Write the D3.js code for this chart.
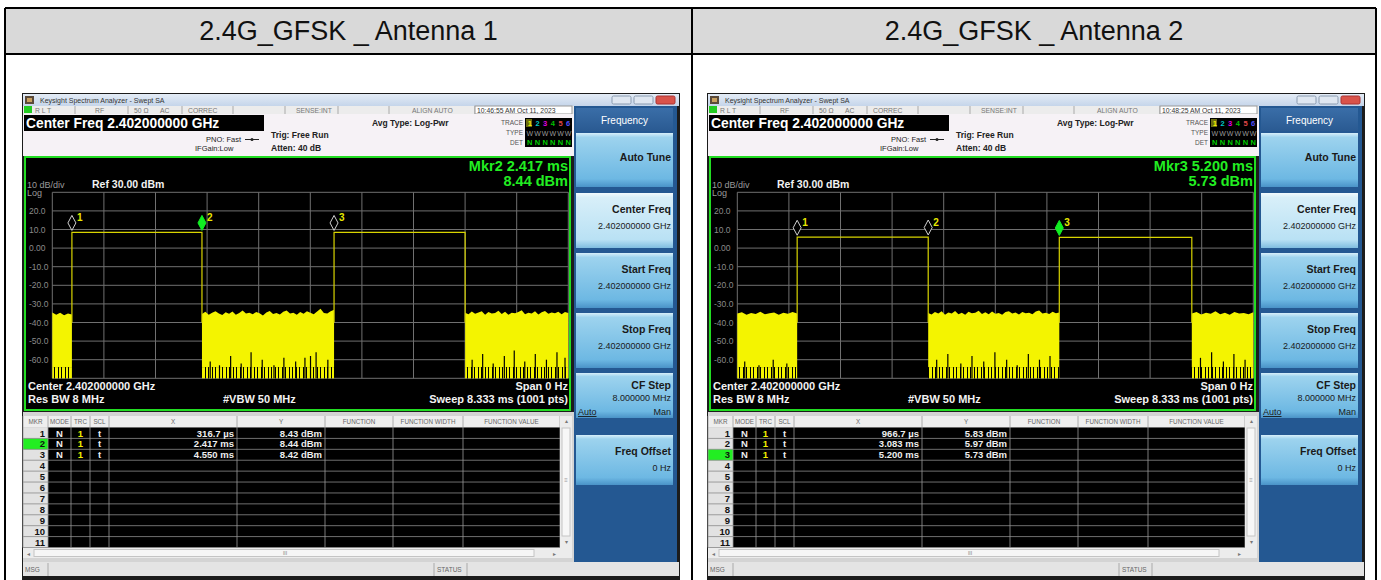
<!DOCTYPE html>
<html>
<head>
<meta charset="utf-8">
<script src="https://d3js.org/d3.v7.min.js"></script>
<style>
body { margin: 0; background: #fff; }
svg { display: block; }
</style>
</head>
<body>
<div id="chart"></div>
<script>
// ---- data ----
var panelTitles = ["2.4G_GFSK _ Antenna 1", "2.4G_GFSK _ Antenna 2"];
var timeStamps = ["10:46:55 AM Oct 11, 2023", "10:48:25 AM Oct 11, 2023"];
var activeMarker = [2, 3];

var markerTimes = [[0.3167, 2.417, 4.550], [0.9667, 3.083, 5.200]];      // ms
var markerLevels = [[8.43, 8.44, 8.42], [5.83, 5.97, 5.73]];             // dBm
var markerXText = [["316.7 \u00b5s", "2.417 ms", "4.550 ms"], ["966.7 \u00b5s", "3.083 ms", "5.200 ms"]];
var markerYText = [["8.43 dBm", "8.44 dBm", "8.42 dBm"], ["5.83 dBm", "5.97 dBm", "5.73 dBm"]];

// [start ms, end ms, level dBm]
var pulses = [
  [[0.3167, 2.417, 8.43], [4.550, 6.667, 8.42]],
  [[0.9667, 3.083, 5.90], [5.200, 7.340, 5.73]]
];

// noise floor segments between bursts: time spans and top envelope (dBm)
var noiseSpan = [
  [[0, 0.3167], [2.417, 4.550], [6.667, 8.333]],
  [[0, 0.9667], [3.083, 5.200], [7.340, 8.333]]
];
var noiseTop = [
  [
    [-34.6, -35.9, -34.8, -36.1, -35.2, -35.7],
    [-35.4, -34.2, -35.9, -34.8, -33.9, -35.1, -36.0, -34.5, -35.3, -34.1, -35.8, -34.9, -33.6, -35.2,
     -34.7, -35.6, -34.3, -35.0, -36.2, -34.6, -33.8, -35.4, -34.9, -35.7, -34.2, -33.5, -35.1, -34.8,
     -35.9, -34.4, -35.3, -33.9, -34.7, -35.5, -34.1, -32.6, -34.9, -35.2, -34.0, -33.1],
    [-34.8, -35.6, -34.1, -35.3, -34.6, -33.9, -35.8, -34.4, -35.1, -34.9, -33.7, -35.4, -34.2, -35.9,
     -34.7, -35.0, -34.3, -33.4, -35.6, -34.8, -35.2, -34.0, -35.7, -34.5, -33.8, -35.3, -34.6, -35.0,
     -34.2, -35.5, -34.4, -34.9]
  ],
  [
    [-35.2, -34.5, -35.8, -34.9, -35.4, -34.2, -35.6, -35.0, -34.6, -35.9, -34.8, -35.3, -34.4, -35.1],
    [-34.9, -35.7, -34.3, -35.2, -34.0, -35.8, -34.6, -35.1, -33.8, -35.5, -34.7, -35.9, -34.2, -35.0,
     -34.8, -33.7, -35.4, -34.5, -35.6, -34.1, -35.3, -34.9, -35.8, -34.4, -33.9, -35.2, -34.6, -35.7,
     -34.3, -35.0, -34.8, -35.5, -34.1, -33.6, -35.1, -34.7, -35.4, -34.2, -35.0, -34.6],
    [-35.1, -34.4, -35.7, -34.8, -35.3, -34.0, -35.5, -34.7, -35.9, -34.3, -35.2, -34.9, -35.6, -34.5]
  ]
];
// black dropouts rising from the bottom of the noise fill: [ms, dBm]
var notches = [
  [[2.55, -61], [2.70, -63], [2.88, -58], [3.05, -62], [3.21, -56], [3.39, -60], [3.58, -63], [3.74, -59],
   [3.93, -61], [4.08, -59], [4.17, -58], [4.26, -56], [4.45, -60],
   [6.78, -60], [6.95, -57], [7.12, -62], [7.30, -58], [7.46, -55], [7.63, -61], [7.80, -57], [7.98, -60],
   [8.15, -56], [8.28, -59]],
  [[0.12, -61], [0.35, -63], [0.58, -60], [0.80, -62],
   [3.22, -60], [3.40, -57], [3.61, -62], [3.79, -58], [3.98, -61], [4.16, -56], [4.35, -60], [4.52, -63],
   [4.70, -57], [4.88, -60], [5.05, -58],
   [7.48, -59], [7.66, -56], [7.85, -61], [8.02, -57], [8.20, -60]]
];

var yTickValues = [20, 10, 0, -10, -20, -30, -40, -50, -60];
var yTickLabels = ["20.0", "10.0", "0.00", "-10.0", "-20.0", "-30.0", "-40.0", "-50.0", "-60.0"];
var sweepMs = 8.333, refLevel = 30, bottomLevel = -70;

var softKeys = [
  {label: "Auto Tune", sub: ""},
  {label: "Center Freq", sub: "2.402000000 GHz"},
  {label: "Start Freq", sub: "2.402000000 GHz"},
  {label: "Stop Freq", sub: "2.402000000 GHz"},
  {label: "CF Step", sub: "8.000000 MHz"},
  {label: "Freq Offset", sub: "0 Hz"}
];
var tableHeaders = ["MKR", "MODE", "TRC", "SCL", "X", "Y", "FUNCTION", "FUNCTION WIDTH", "FUNCTION VALUE"];
var traceDigits = ["1", "2", "3", "4", "5", "6"];
var traceColors = ["#f0f000", "#00c8c8", "#e000e0", "#00c000", "#e04848", "#5050ff"];

// ---- drawing ----
var W = 1381, H = 580;
var font = "'Liberation Sans', Arial, sans-serif";
var yellow = "#f4f400";

var svg = d3.select("#chart").append("svg")
  .attr("width", W).attr("height", H)
  .style("font-family", font);

var defs = svg.append("defs");
function grad(id, stops) {
  var lg = defs.append("linearGradient").attr("id", id)
    .attr("x1", 0).attr("y1", 0).attr("x2", 0).attr("y2", 1);
  stops.forEach(function(s) { lg.append("stop").attr("offset", s[0]).attr("stop-color", s[1]); });
}
grad("titleGrad", [[0, "#e4ecf6"], [1, "#c5d5ea"]]);
grad("keyGrad", [[0, "#d6eef9"], [0.08, "#9dd3ee"], [0.85, "#6db8e3"], [1, "#4a93c8"]]);
grad("keySel", [[0, "#f2fafe"], [0.08, "#d8eff9"], [0.85, "#b9e1f4"], [1, "#7fbde0"]]);
grad("headGrad", [[0, "#3a6ea8"], [1, "#2a5a92"]]);
var band = defs.append("pattern").attr("id", "band")
  .attr("width", 7).attr("height", 10).attr("patternUnits", "userSpaceOnUse");
band.append("rect").attr("width", 7).attr("height", 10).attr("fill", yellow);
band.append("rect").attr("x", 2).attr("width", 1).attr("height", 10).attr("fill", "#000");
band.append("rect").attr("x", 5).attr("width", 1).attr("height", 10).attr("fill", "#000");

// outer document table
svg.append("rect").attr("x", 5).attr("y", 8).attr("width", 1371).attr("height", 46).attr("fill", "#d9d9d9");
var tl = svg.append("g").attr("stroke", "#000").attr("stroke-width", 2);
tl.append("line").attr("x1", 5).attr("x2", 1376).attr("y1", 8).attr("y2", 8);
tl.append("line").attr("x1", 5).attr("x2", 1376).attr("y1", 54).attr("y2", 54);
[5, 692, 1376].forEach(function(x) {
  tl.append("line").attr("x1", x).attr("x2", x).attr("y1", 8).attr("y2", H);
});
svg.selectAll("text.hdr").data(panelTitles).enter().append("text")
  .attr("class", "hdr")
  .attr("x", function(d, i) { return i === 0 ? 348.5 : 1034; })
  .attr("y", 40)
  .attr("text-anchor", "middle")
  .attr("font-size", 27)
  .attr("fill", "#111")
  .text(function(d) { return d; });

function txt(g, x, y, s, size, opts) {
  opts = opts || {};
  return g.append("text").attr("x", x).attr("y", y).text(s)
    .attr("font-size", size)
    .attr("font-weight", opts.bold ? "bold" : null)
    .attr("fill", opts.fill || "#222")
    .attr("text-anchor", opts.anchor || "start");
}

function drawScreen(p) {
  var ox = p === 0 ? 0 : 685;
  var g = svg.append("g").attr("transform", "translate(" + ox + ",0)");

  // window frame + title bar
  g.append("rect").attr("x", 22).attr("y", 93).attr("width", 658).attr("height", 492).attr("fill", "#1c1c1c");
  g.append("rect").attr("x", 23).attr("y", 94).attr("width", 656).attr("height", 12).attr("fill", "url(#titleGrad)");
  g.append("rect").attr("x", 25).attr("y", 96).attr("width", 9).attr("height", 8).attr("fill", "#5a4a3a");
  g.append("rect").attr("x", 27).attr("y", 98).attr("width", 5).attr("height", 4).attr("fill", "#c8a060");
  txt(g, 40, 103, "Keysight Spectrum Analyzer - Swept SA", 7, {fill: "#333"});
  [612, 634, 656].forEach(function(x, i) {
    g.append("rect").attr("x", x).attr("y", 96).attr("width", 19).attr("height", 8).attr("rx", 1.5)
      .attr("fill", i === 2 ? "#d9534a" : "#dfe7f1").attr("stroke", i === 2 ? "#a33" : "#8a9bb0");
  });

  // status row
  g.append("rect").attr("x", 23).attr("y", 106).attr("width", 551).attr("height", 8).attr("fill", "#ececec");
  g.append("rect").attr("x", 24).attr("y", 106).attr("width", 8).attr("height", 7).attr("fill", "#22cc22");
  [75, 128, 182, 233, 285, 338, 389, 475].forEach(function(x) {
    g.append("line").attr("x1", x).attr("x2", x).attr("y1", 106).attr("y2", 114).attr("stroke", "#aaa");
  });
  var st = [[35, "R L T"], [95, "RF"], [134, "50 \u03a9"], [160, "AC"], [188, "CORREC"], [296, "SENSE:INT"], [412, "ALIGN AUTO"]];
  st.forEach(function(d) { txt(g, d[0], 112.5, d[1], 6.8, {fill: "#777"}); });
  g.append("rect").attr("x", 475).attr("y", 106).attr("width", 97).attr("height", 8).attr("fill", "#fff").attr("stroke", "#999");
  txt(g, 477, 112.5, timeStamps[p], 6.8, {fill: "#333"});

  // setup row
  g.append("rect").attr("x", 23).attr("y", 114).attr("width", 551).attr("height", 42).attr("fill", "#f6f2f6");
  g.append("rect").attr("x", 24).attr("y", 115).attr("width", 240).attr("height", 16).attr("fill", "#000");
  txt(g, 26, 128, "Center Freq 2.402000000 GHz", 13.8, {bold: true, fill: "#fff"});
  txt(g, 241, 142, "PNO: Fast", 7.5, {anchor: "end"});
  g.append("line").attr("x1", 245).attr("x2", 259).attr("y1", 139.5).attr("y2", 139.5).attr("stroke", "#222");
  g.append("circle").attr("cx", 252).attr("cy", 139.5).attr("r", 1.5).attr("fill", "#222");
  txt(g, 195, 151, "IFGain:Low", 7.5);
  txt(g, 271, 138, "Trig: Free Run", 8.5, {bold: true});
  txt(g, 271, 151, "Atten: 40 dB", 8.5, {bold: true});
  txt(g, 372, 126, "Avg Type: Log-Pwr", 8.5, {bold: true});
  txt(g, 523, 125, "TRACE", 6.5, {anchor: "end", fill: "#555"});
  txt(g, 523, 135, "TYPE", 6.5, {anchor: "end", fill: "#555"});
  txt(g, 523, 145, "DET", 6.5, {anchor: "end", fill: "#555"});
  g.append("rect").attr("x", 525).attr("y", 118).attr("width", 47).attr("height", 29).attr("fill", "#000");
  g.append("rect").attr("x", 526).attr("y", 119).attr("width", 6).attr("height", 8).attr("fill", "#6a6a10");
  var dx = d3.scaleBand().domain(traceDigits).range([526, 572]);
  traceDigits.forEach(function(d, i) {
    txt(g, dx(d) + dx.bandwidth() / 2, 126, d, 7.5, {bold: true, fill: traceColors[i], anchor: "middle"});
    txt(g, dx(d) + dx.bandwidth() / 2, 136, "W", 7, {fill: "#999", anchor: "middle"});
    txt(g, dx(d) + dx.bandwidth() / 2, 145, "N", 7.5, {bold: true, fill: "#0c0", anchor: "middle"});
  });

  // graticule panel
  g.append("rect").attr("x", 25).attr("y", 157).attr("width", 545).attr("height", 253)
    .attr("fill", "#000").attr("stroke", "#22dd22").attr("stroke-width", 2);

  var xs = d3.scaleLinear().domain([0, sweepMs]).range([52.3, 568.3]);
  var ys = d3.scaleLinear().domain([bottomLevel, refLevel]).range([378.3, 192.3]);
  var div = d3.scaleLinear().domain([0, 10]).range(xs.range());

  // graticule (under the trace)
  var grid = g.append("g").attr("stroke", "#707070").attr("stroke-width", 1);
  grid.selectAll("line.v").data(div.ticks(10)).enter().append("line")
    .attr("x1", function(d) { return div(d); }).attr("x2", function(d) { return div(d); })
    .attr("y1", ys(refLevel)).attr("y2", ys(bottomLevel));
  grid.selectAll("line.h").data(ys.ticks(10)).enter().append("line")
    .attr("y1", function(d) { return ys(d); }).attr("y2", function(d) { return ys(d); })
    .attr("x1", xs(0)).attr("x2", xs(sweepMs));

  var plot = g.append("g");
  // noise floor fill
  noiseSpan[p].forEach(function(span, si) {
    var tops = noiseTop[p][si];
    var step = (span[1] - span[0]) / (tops.length - 1);
    var pts = tops.map(function(v, i) { return [span[0] + i * step, v]; });
    var area = d3.area().x(function(d) { return xs(d[0]); })
      .y0(ys(-64)).y1(function(d) { return ys(d[1]); });
    plot.append("path").attr("d", area(pts)).attr("fill", yellow);
    plot.append("rect").attr("x", xs(span[0])).attr("y", ys(-64))
      .attr("width", xs(span[1]) - xs(span[0])).attr("height", ys(bottomLevel) - ys(-64))
      .attr("fill", "url(#band)");
  });
  plot.selectAll("line.notch").data(notches[p]).enter().append("line")
    .attr("x1", function(d) { return xs(d[0]); }).attr("x2", function(d) { return xs(d[0]); })
    .attr("y1", ys(bottomLevel)).attr("y2", function(d) { return ys(d[1]); })
    .attr("stroke", "#000").attr("stroke-width", 1.2);

  // pulse trace
  pulses[p].forEach(function(d) {
    var path = d3.path();
    path.moveTo(xs(d[0]), ys(-40));
    path.lineTo(xs(d[0]), ys(d[2]));
    path.lineTo(xs(d[1]), ys(d[2]));
    path.lineTo(xs(d[1]), ys(-40));
    g.append("path").attr("d", path.toString()).attr("fill", "none")
      .attr("stroke", "#d8d400").attr("stroke-width", 1.2);
  });

  // markers
  markerTimes[p].forEach(function(t, i) {
    var mx = xs(t), my = ys(markerLevels[p][i]);
    var on = activeMarker[p] === i + 1;
    g.append("path")
      .attr("d", "M" + mx + "," + (my - 17) + "L" + (mx + 4) + "," + (my - 9.5) + "L" + mx + "," + (my - 2) + "L" + (mx - 4) + "," + (my - 9.5) + "Z")
      .attr("fill", on ? "#11ee22" : "#000").attr("stroke", on ? "#11ee22" : "#d0d0d0").attr("stroke-width", 1);
    txt(g, mx + 5, my - 11, String(i + 1), 10, {bold: true, fill: "#e8e800"});
  });

  // graticule annotations
  txt(g, 27, 188, "10 dB/div", 9, {fill: "#9a9a9a"});
  txt(g, 27, 196, "Log", 9, {fill: "#9a9a9a"});
  txt(g, 92, 188, "Ref 30.00 dBm", 10.5, {bold: true, fill: "#f2f2f2"});
  yTickValues.forEach(function(v, i) {
    txt(g, 29, ys(v) + 3, yTickLabels[i], 8.5, {fill: "#8a8a8a"});
  });
  var am = activeMarker[p] - 1;
  txt(g, 568, 171, "Mkr" + activeMarker[p] + " " + markerXText[p][am], 14.5, {bold: true, fill: "#22ee22", anchor: "end"});
  txt(g, 568, 186, markerYText[p][am], 14.5, {bold: true, fill: "#22ee22", anchor: "end"});
  txt(g, 28, 390, "Center 2.402000000 GHz", 11, {bold: true, fill: "#f2f2f2"});
  txt(g, 28, 403, "Res BW 8 MHz", 11, {bold: true, fill: "#f2f2f2"});
  txt(g, 223, 403, "#VBW 50 MHz", 11, {bold: true, fill: "#f2f2f2"});
  txt(g, 568, 390, "Span 0 Hz", 11, {bold: true, fill: "#f2f2f2", anchor: "end"});
  txt(g, 568, 403, "Sweep  8.333 ms (1001 pts)", 11, {bold: true, fill: "#f2f2f2", anchor: "end"});

  // marker table
  var tb = g.append("g");
  tb.append("rect").attr("x", 23).attr("y", 412).attr("width", 551).attr("height", 150).attr("fill", "#d4d4d4");
  tb.append("rect").attr("x", 23).attr("y", 416).attr("width", 549).attr("height", 11).attr("fill", "#eeeeee");
  var edges = [23, 48, 71, 90, 109, 237, 325, 393, 463, 560];
  var rowY = d3.scaleBand().domain(d3.range(11)).range([427.5, 547.5]);
  tb.append("rect").attr("x", 48).attr("y", 427.5).attr("width", 512).attr("height", 120).attr("fill", "#000");
  tb.append("rect").attr("x", 23).attr("y", 427.5).attr("width", 25).attr("height", 120).attr("fill", "#e2e2e2");
  tb.append("rect").attr("x", 23).attr("y", rowY(activeMarker[p] - 1)).attr("width", 25).attr("height", rowY.bandwidth()).attr("fill", "#22ee22");
  rowY.domain().forEach(function(r) {
    tb.append("line").attr("x1", 23).attr("x2", 560).attr("y1", rowY(r) + rowY.bandwidth()).attr("y2", rowY(r) + rowY.bandwidth())
      .attr("stroke", "#8a8a8a").attr("stroke-width", 0.8);
    txt(tb, 45, rowY(r) + 9, String(r + 1), 9.5, {bold: true, fill: "#111", anchor: "end"});
  });
  edges.forEach(function(x) {
    tb.append("line").attr("x1", x).attr("x2", x).attr("y1", 416).attr("y2", 547.5).attr("stroke", "#9a9a9a").attr("stroke-width", 0.8);
  });
  tableHeaders.forEach(function(h, i) {
    txt(tb, (edges[i] + edges[i + 1]) / 2, 424, h, 6.3, {fill: "#666", anchor: "middle"});
  });
  markerTimes[p].forEach(function(t, i) {
    var by = rowY(i) + 9;
    txt(tb, 59.5, by, "N", 9.5, {bold: true, fill: "#eee", anchor: "middle"});
    txt(tb, 80.5, by, "1", 9.5, {bold: true, fill: "#f0f000", anchor: "middle"});
    txt(tb, 99.5, by, "t", 9.5, {bold: true, fill: "#eee", anchor: "middle"});
    txt(tb, 234, by, markerXText[p][i], 9.5, {bold: true, fill: "#eee", anchor: "end"});
    txt(tb, 322, by, markerYText[p][i], 9.5, {bold: true, fill: "#eee", anchor: "end"});
  });
  // scrollbars
  tb.append("rect").attr("x", 560).attr("y", 416).attr("width", 12).attr("height", 132).attr("fill", "#ececec");
  tb.append("rect").attr("x", 562).attr("y", 428).attr("width", 8).attr("height", 108).attr("fill", "#f7f7f7").attr("stroke", "#c4c4c4");
  txt(tb, 566, 423, "\u25b4", 6, {fill: "#777", anchor: "middle"});
  txt(tb, 566, 544, "\u25be", 6, {fill: "#777", anchor: "middle"});
  txt(tb, 566, 482, "\u2261", 6, {fill: "#999", anchor: "middle"});
  tb.append("rect").attr("x", 23).attr("y", 548).attr("width", 549).attr("height", 10).attr("fill", "#ececec");
  tb.append("rect").attr("x", 34).attr("y", 549.5).attr("width", 500).attr("height", 7).attr("fill", "#f6f6f6").attr("stroke", "#c4c4c4");
  txt(tb, 27, 555.5, "\u25c2", 6, {fill: "#777"});
  txt(tb, 553, 555.5, "\u25b8", 6, {fill: "#777"});
  txt(tb, 285, 555, "III", 5, {fill: "#777", anchor: "middle"});

  // right soft-key panel
  var rp = g.append("g");
  rp.append("rect").attr("x", 574).attr("y", 106).attr("width", 103).attr("height", 456).attr("fill", "#245892");
  rp.append("rect").attr("x", 576).attr("y", 108).attr("width", 97).attr("height", 23).attr("fill", "url(#headGrad)");
  txt(rp, 624.5, 124, "Frequency", 10, {fill: "#fff", anchor: "middle"});
  var keyTop = [133, 193, 253, 313, 373, 435];
  var keyBot = [187, 248, 308, 368, 418, 485];
  softKeys.forEach(function(k, i) {
    rp.append("rect").attr("x", 576).attr("y", keyTop[i]).attr("width", 97).attr("height", keyBot[i] - keyTop[i])
      .attr("fill", i === 1 ? "url(#keySel)" : "url(#keyGrad)");
    var ly = k.sub ? keyTop[i] + 20 : keyTop[i] + 28;
    if (i === 4) ly = keyTop[i] + 16;
    txt(rp, 671, ly, k.label, 10.5, {bold: true, fill: "#1a1a1a", anchor: "end"});
    if (k.sub) txt(rp, 671, ly + (i === 4 ? 12 : 16), k.sub, 9, {fill: "#1a1a1a", anchor: "end"});
  });
  txt(rp, 578, 415, "Auto", 9, {fill: "#1a1a1a"}).attr("text-decoration", "underline");
  txt(rp, 671, 415, "Man", 9, {fill: "#1a1a1a", anchor: "end"});

  // message bar
  g.append("rect").attr("x", 23).attr("y", 562).attr("width", 656).attr("height", 14).attr("fill", "#e4e4e4");
  [48, 434, 467].forEach(function(x) {
    g.append("line").attr("x1", x).attr("x2", x).attr("y1", 563).attr("y2", 576).attr("stroke", "#aaa");
  });
  txt(g, 25, 572, "MSG", 6.5, {fill: "#666"});
  txt(g, 437, 572, "STATUS", 6.5, {fill: "#666"});
}

drawScreen(0);
drawScreen(1);
</script>
</body>
</html>
